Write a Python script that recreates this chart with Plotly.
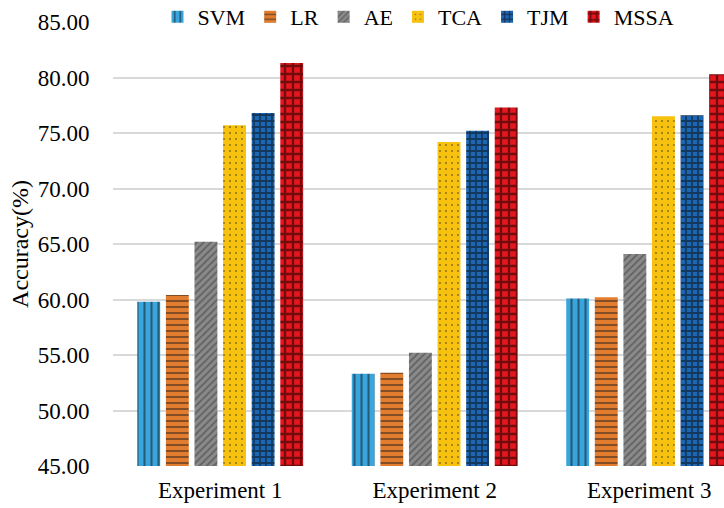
import plotly.graph_objects as go

categories = ["Experiment 1", "Experiment 2", "Experiment 3"]
methods = ["SVM", "LR", "AE", "TCA", "TJM", "MSSA"]
svm = [59.8, 53.3, 60.1]
lr = [60.4, 53.4, 60.2]
ae = [65.2, 55.2, 64.1]
tca = [75.7, 74.2, 76.5]
tjm = [76.8, 75.2, 76.6]
mssa = [81.3, 77.3, 80.3]
y_ticks = [45, 50, 55, 60, 65, 70, 75, 80, 85]

series = [svm, lr, ae, tca, tjm, mssa]
styles = [
    dict(color="#3AA4DC", pattern=dict(shape="|", fgcolor="#111111", size=7, solidity=0.3)),
    dict(color="#E27C2F", pattern=dict(shape="-", fgcolor="#1a1a1a", size=6, solidity=0.32)),
    dict(color="#8A8A8A", pattern=dict(shape="/", fgcolor="#3a3a3a", size=5, solidity=0.35)),
    dict(color="#F6C10F", pattern=dict(shape=".", fgcolor="#1a1a1a", size=6, solidity=0.08)),
    dict(color="#1D66B2", pattern=dict(shape="+", fgcolor="#0a0a0a", size=6, solidity=0.5)),
    dict(color="#E5161D", pattern=dict(shape="+", fgcolor="#000000", size=8, solidity=0.5)),
]

FONT = "serif"
fig = go.Figure()
for name, vals, st in zip(methods, series, styles):
    fig.add_trace(go.Bar(
        name=name, x=categories, y=vals,
        marker=dict(color=st["color"], pattern=st["pattern"], line=dict(width=0)),
    ))

fig.update_layout(
    width=724, height=508,
    barmode="group", bargap=0.2, bargroupgap=0.2,
    margin=dict(l=113, r=0, t=22, b=42, autoexpand=False),
    paper_bgcolor="white", plot_bgcolor="white",
    font=dict(family=FONT, size=23, color="black"),
    legend=dict(orientation="h", x=0.5, xanchor="center", y=1 + 5/444,
                yanchor="middle",
                bgcolor="rgba(0,0,0,0)", font=dict(family=FONT, size=22),
                itemwidth=30, tracegroupgap=0),
    xaxis=dict(range=[-0.5, 2.349], showgrid=False, showline=False,
               ticks="", tickfont=dict(family=FONT, size=23), automargin=False,
               ticklabelstandoff=8),
    yaxis=dict(range=[45, 85], tickvals=y_ticks, tickformat=".2f",
               showgrid=True, gridcolor="#D9D9D9", gridwidth=1.5,
               zeroline=False, showline=False,
               ticks="outside", ticklen=18, tickcolor="rgba(0,0,0,0)",
               automargin=False,
               tickfont=dict(family=FONT, size=23),
               title=dict(text="Accuracy(%)", font=dict(family=FONT, size=24), standoff=2)),
)

fig.write_html("out.html", config={"displayModeBar": False},
               post_script="document.body.style.margin='0';")
